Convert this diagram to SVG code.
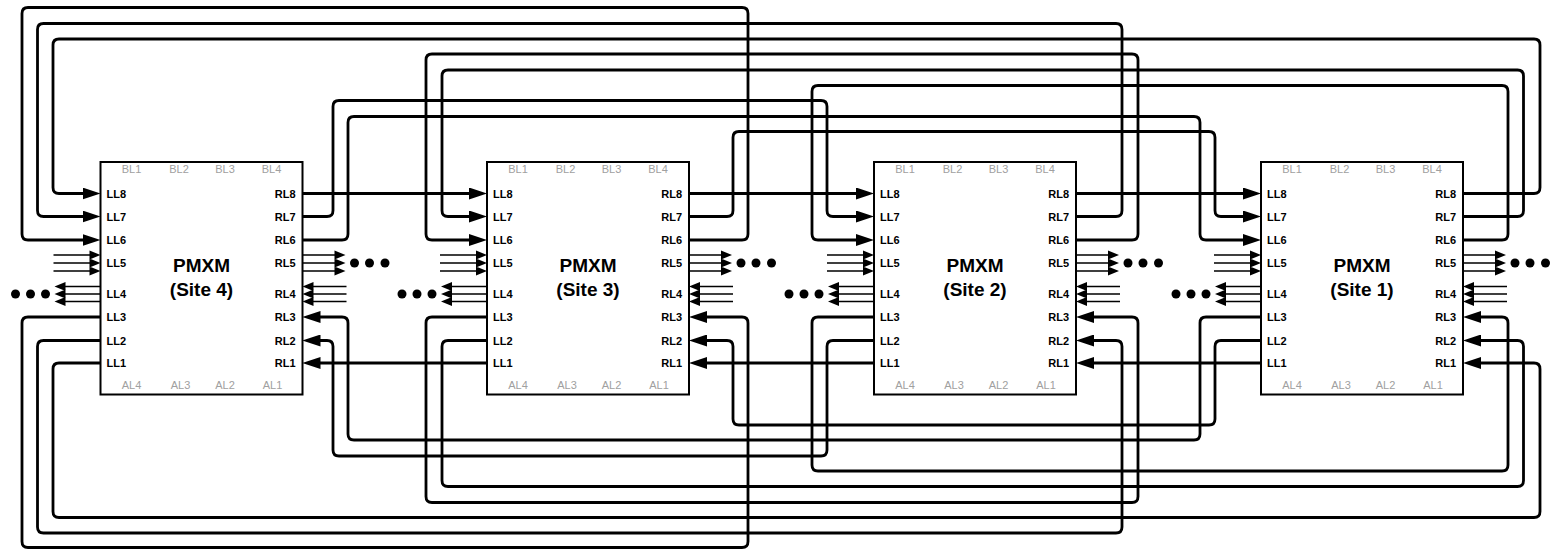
<svg xmlns="http://www.w3.org/2000/svg" width="1551" height="549" viewBox="0 0 1551 549">
<style>
.box{fill:#fff;stroke:#000;stroke-width:2}
.c{fill:none;stroke:#000;stroke-width:2.8;stroke-linejoin:round}
.a{marker-end:url(#ah)}
.t{fill:none;stroke:#000;stroke-width:1.3}
.h{fill:#000;stroke:none}
.dot{fill:#000}
text{font-family:"Liberation Sans",Arial,sans-serif;font-weight:bold}
.pl{font-size:11px;fill:#000}
.pr{font-size:11px;fill:#000;text-anchor:end}
.g{font-size:11px;font-weight:normal;fill:#a0a0a0;text-anchor:middle}
.ti{font-size:19px;fill:#000;text-anchor:middle}
</style>
<defs>
<marker id="ah" markerUnits="userSpaceOnUse" markerWidth="18" markerHeight="12" viewBox="0 0 18 12" refX="10" refY="6" orient="auto"><path d="M0,0 L18,6 L0,12 z" fill="#000"/></marker>
<g id="boxbody">
<rect class="box" x="0" y="162" width="202" height="232.5"/>
<text class="g" x="31" y="172.5">BL1</text><text class="g" x="78.5" y="172.5">BL2</text><text class="g" x="124.5" y="172.5">BL3</text><text class="g" x="171" y="172.5">BL4</text>
<text class="g" x="31" y="389">AL4</text><text class="g" x="80" y="389">AL3</text><text class="g" x="124.5" y="389">AL2</text><text class="g" x="172" y="389">AL1</text>
<text class="pl" x="6" y="197.5">LL8</text><text class="pl" x="6" y="220.5">LL7</text><text class="pl" x="6" y="244">LL6</text><text class="pl" x="6" y="267">LL5</text>
<text class="pl" x="6" y="298">LL4</text><text class="pl" x="6" y="321">LL3</text><text class="pl" x="6" y="344.5">LL2</text><text class="pl" x="6" y="367">LL1</text>
<text class="pr" x="195" y="197.5">RL8</text><text class="pr" x="195" y="220.5">RL7</text><text class="pr" x="195" y="244">RL6</text><text class="pr" x="195" y="267">RL5</text>
<text class="pr" x="195" y="298">RL4</text><text class="pr" x="195" y="321">RL3</text><text class="pr" x="195" y="344.5">RL2</text><text class="pr" x="195" y="367">RL1</text>
<text class="ti" x="101" y="271.5">PMXM</text>
</g>
<g id="stubs">
<path class="t" d="M-47,255 H-10 M-47,263 H-10 M-47,271 H-10"/>
<path class="h" d="M-11,250.5 L0,255 L-11,259.5 z M-11,258.5 L0,263 L-11,267.5 z M-11,266.5 L0,271 L-11,275.5 z"/>
<path class="t" d="M0,286.5 H-36 M0,294 H-36 M0,301.5 H-36"/>
<path class="h" d="M-35,282 L-46,286.5 L-35,291 z M-35,289.5 L-46,294 L-35,298.5 z M-35,297 L-46,301.5 L-35,306 z"/>
<path class="t" d="M202,255 H235 M202,263 H235 M202,271 H235"/>
<path class="h" d="M234,250.5 L245,255 L234,259.5 z M234,258.5 L245,263 L234,267.5 z M234,266.5 L245,271 L234,275.5 z"/>
<path class="t" d="M246,286.5 H212 M246,294 H212 M246,301.5 H212"/>
<path class="h" d="M213,282 L202,286.5 L213,291 z M213,289.5 L202,294 L213,298.5 z M213,297 L202,301.5 L213,306 z"/>
<circle class="dot" cx="-85" cy="294" r="4.5"/><circle class="dot" cx="-70" cy="294" r="4.5"/><circle class="dot" cx="-55" cy="294" r="4.5"/>
<circle class="dot" cx="254" cy="263" r="4.5"/><circle class="dot" cx="269" cy="263" r="4.5"/><circle class="dot" cx="284.5" cy="263" r="4.5"/>
</g>
</defs>

<g id="site4" transform="translate(100.5,0)"><use href="#boxbody"/><text class="ti" x="101" y="296">(Site 4)</text></g>
<g id="site3" transform="translate(487,0)"><use href="#boxbody"/><text class="ti" x="101" y="296">(Site 3)</text></g>
<g id="site2" transform="translate(874,0)"><use href="#boxbody"/><text class="ti" x="101" y="296">(Site 2)</text></g>
<g id="site1" transform="translate(1261,0)"><use href="#boxbody"/><text class="ti" x="101" y="296">(Site 1)</text></g>

<g id="connectors">
<path class="c a" d="M1463,193.5 H1534 Q1540,193.5 1540,187.5 V45 Q1540,39 1534,39 H59 Q53,39 53,45 V187.5 Q53,193.5 59,193.5 H92.5"/>
<path class="c a" d="M1076,216.5 H1116 Q1122,216.5 1122,210.5 V29.5 Q1122,23.5 1116,23.5 H43.5 Q37.5,23.5 37.5,29.5 V210.5 Q37.5,216.5 43.5,216.5 H92.5"/>
<path class="c a" d="M689,240 H742 Q748,240 748,234 V13.5 Q748,7.5 742,7.5 H28 Q22,7.5 22,13.5 V234 Q22,240 28,240 H92.5"/>
<path class="c a" d="M1076,240 H1132 Q1138,240 1138,234 V60 Q1138,54 1132,54 H432 Q426,54 426,60 V234 Q426,240 432,240 H479"/>
<path class="c a" d="M1463,216.5 H1517.5 Q1523.5,216.5 1523.5,210.5 V76 Q1523.5,70 1517.5,70 H448 Q442,70 442,76 V210.5 Q442,216.5 448,216.5 H479"/>
<path class="c a" d="M1463,240 H1502 Q1508,240 1508,234 V91.5 Q1508,85.5 1502,85.5 H818 Q812,85.5 812,91.5 V234 Q812,240 818,240 H866"/>
<path class="c a" d="M302.5,216.5 H327 Q333,216.5 333,210.5 V106.5 Q333,100.5 339,100.5 H821 Q827,100.5 827,106.5 V210.5 Q827,216.5 833,216.5 H866"/>
<path class="c a" d="M302.5,240 H342 Q348,240 348,234 V122.5 Q348,116.5 354,116.5 H1194 Q1200,116.5 1200,122.5 V234 Q1200,240 1206,240 H1253"/>
<path class="c a" d="M689,216.5 H727 Q733,216.5 733,210.5 V137.5 Q733,131.5 739,131.5 H1209 Q1215,131.5 1215,137.5 V210.5 Q1215,216.5 1221,216.5 H1253"/>
<path class="c a" d="M302.5,193.5 H479"/>
<path class="c a" d="M689,193.5 H866"/>
<path class="c a" d="M1076,193.5 H1253"/>
<path class="c a" d="M100.5,363 H59 Q53,363 53,369 V511.5 Q53,517.5 59,517.5 H1534 Q1540,517.5 1540,511.5 V369 Q1540,363 1534,363 H1471"/>
<path class="c a" d="M100.5,340.5 H43.5 Q37.5,340.5 37.5,346.5 V527 Q37.5,533 43.5,533 H1116 Q1122,533 1122,527 V346.5 Q1122,340.5 1116,340.5 H1084"/>
<path class="c a" d="M100.5,317 H28 Q22,317 22,323 V541.5 Q22,547.5 28,547.5 H742 Q748,547.5 748,541.5 V323 Q748,317 742,317 H697"/>
<path class="c a" d="M487,317 H432 Q426,317 426,323 V496.5 Q426,502.5 432,502.5 H1132 Q1138,502.5 1138,496.5 V323 Q1138,317 1132,317 H1084"/>
<path class="c a" d="M487,340.5 H448 Q442,340.5 442,346.5 V480.5 Q442,486.5 448,486.5 H1517.5 Q1523.5,486.5 1523.5,480.5 V346.5 Q1523.5,340.5 1517.5,340.5 H1471"/>
<path class="c a" d="M874,317 H818 Q812,317 812,323 V465 Q812,471 818,471 H1502 Q1508,471 1508,465 V323 Q1508,317 1502,317 H1471"/>
<path class="c a" d="M874,340.5 H833 Q827,340.5 827,346.5 V450 Q827,456 821,456 H339 Q333,456 333,450 V346.5 Q333,340.5 327,340.5 H310.5"/>
<path class="c a" d="M1261,317 H1206 Q1200,317 1200,323 V434 Q1200,440 1194,440 H354 Q348,440 348,434 V323 Q348,317 342,317 H310.5"/>
<path class="c a" d="M1261,340.5 H1221 Q1215,340.5 1215,346.5 V419 Q1215,425 1209,425 H739 Q733,425 733,419 V346.5 Q733,340.5 727,340.5 H697"/>
<path class="c a" d="M487,363 H310.5"/>
<path class="c a" d="M874,363 H697"/>
<path class="c a" d="M1261,363 H1084"/>
<use href="#stubs" transform="translate(100.5,0)"/>
<use href="#stubs" transform="translate(487,0)"/>
<use href="#stubs" transform="translate(874,0)"/>
<use href="#stubs" transform="translate(1261,0)"/>
</g>
</svg>
